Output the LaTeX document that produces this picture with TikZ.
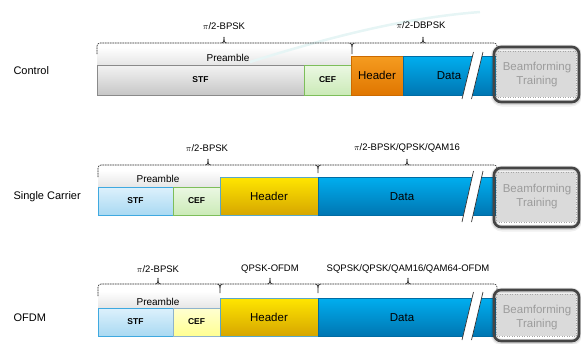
\documentclass[tikz,border=0pt]{standalone}
\usepackage{fontspec}
\setmainfont{Liberation Sans}
\definecolor{stfgT}{HTML}{F3F3F3}\definecolor{stfgB}{HTML}{C6C6C6}\definecolor{stfgD}{HTML}{8A8A8A}
\definecolor{cefgT}{HTML}{EBF8E3}\definecolor{cefgB}{HTML}{CBEAB7}\definecolor{cefgD}{HTML}{7DBE5A}
\definecolor{hdoT}{HTML}{F59C20}\definecolor{hdoB}{HTML}{E07600}\definecolor{hdoD}{HTML}{CC6A00}
\definecolor{dtT}{HTML}{00AEEF}\definecolor{dtB}{HTML}{0076B2}\definecolor{dtD}{HTML}{006CA4}
\definecolor{hdyT}{HTML}{FFE600}\definecolor{hdyB}{HTML}{D6A600}\definecolor{hdyD}{HTML}{5AA8C8}
\definecolor{stfbT}{HTML}{DDF1FC}\definecolor{stfbB}{HTML}{A9D9F2}\definecolor{stfbD}{HTML}{3FA9E0}
\definecolor{cefyT}{HTML}{FFFFD2}\definecolor{cefyB}{HTML}{FFFF92}\definecolor{cefyD}{HTML}{8FB4CC}
\definecolor{bfT}{HTML}{9C9C9C}\definecolor{bfFill}{HTML}{DADADA}\definecolor{bfBorder}{HTML}{454545}
\definecolor{swoosh}{HTML}{E6F5F5}
\begin{document}
\begin{tikzpicture}[x=1pt,y=-1pt,
  fld/.style={anchor=north west,inner sep=0pt,outer sep=0pt,line width=0.5pt,align=center},
  gray field/.style={fld,draw=stfgD,top color=stfgT,bottom color=stfgB},
  green field/.style={fld,draw=cefgD,top color=cefgT,bottom color=cefgB},
  orange field/.style={fld,draw=hdoD,top color=hdoT,bottom color=hdoB},
  blue field/.style={fld,draw=dtD,top color=dtT,bottom color=dtB},
  gold field/.style={fld,draw=hdyD,top color=hdyT,bottom color=hdyB},
  sky field/.style={fld,draw=stfbD,top color=stfbT,bottom color=stfbB},
  lemon field/.style={fld,draw=cefyD,top color=cefyT,bottom color=cefyB},
  pre area/.style={fld,top color=white,bottom color=black!10},
  small bold/.style={font=\fontsize{8.5}{9}\selectfont\bfseries},
  big text/.style={font=\fontsize{11.5}{13}\selectfont},
  row label/.style={anchor=west,font=\fontsize{11}{13}\selectfont},
  mod label/.style={font=\fontsize{9.5}{11}\selectfont},
  pre label/.style={font=\fontsize{10}{12}\selectfont},
  brace/.style={draw=black!85,line width=0.6pt,dash pattern=on 1.6pt off 0.9pt,rounded corners=3pt},
  tick/.style={draw=black!85,line width=0.6pt},
  bf text/.style={font=\fontsize{11.5}{14}\selectfont,text=bfT,align=center},
  bf inner/.style={fill=bfFill,draw=black!35,line width=0.5pt,dotted},
  bf outer/.style={draw=bfBorder,line width=2.6pt,rounded corners=7pt},
  break line/.style={draw=black!80,line width=0.7pt}
]
\useasboundingbox (0,0) rectangle (581,343);

% ================= Control =================
\node[row label] (lc) at (10,71) {Control};
\node[pre area,minimum width=254pt,minimum height=18pt] (cpa) at (97,47) {};
% decorative swoosh
\draw[swoosh,line width=2.5pt] (250,62) .. controls (320,40) and (400,18) .. (480,12);
\node[pre label] (cpre) at (228,58) {Preamble};
\node[gray field,minimum width=207pt,minimum height=30pt,small bold] (cstf) at (97,65) {STF};
\node[green field,minimum width=47pt,minimum height=30pt,small bold] (ccef) at (304,65) {CEF};
\node[orange field,minimum width=52pt,minimum height=39pt,big text] (chdr) at (351,56) {Header};
\node[blue field,minimum width=94pt,minimum height=39pt] (cdat) at (403,56) {};
\node[big text] (cdatl) at (449,76) {Data};
% braces
\path[brace] (97,54) -- (97,43) -- (497,43) -- (497,50);
\path[tick] (221.5,43) to[out=0,in=-90] (224,37);
\path[tick] (226.5,43) to[out=180,in=-90] (224,37);
\path[tick] (420.5,43) to[out=0,in=-90] (423,37);
\path[tick] (425.5,43) to[out=180,in=-90] (423,37);
\path[tick] (349.5,43) to[out=0,in=90] (352,47) -- (352,54);
\path[tick] (354.5,43) to[out=180,in=90] (352,47);
\node[mod label] (cm1) at (224,26) {$\pi$/2-BPSK};
\node[mod label] (cm2) at (421,25) {$\pi$/2-DBPSK};

% ================= Single Carrier =================
\node[row label] (ls) at (10,197) {Single Carrier};
\node[pre area,minimum width=122pt,minimum height=17pt] (spa) at (98,170) {};
\node[pre label] (spre) at (158,179) {Preamble};
\node[sky field,minimum width=75pt,minimum height=28pt,small bold] (sstf) at (98,187) {STF};
\node[green field,minimum width=47pt,minimum height=28pt,small bold] (scef) at (173,187) {CEF};
\node[gold field,minimum width=98pt,minimum height=38pt,big text] (shdr) at (220,177) {Header};
\node[blue field,minimum width=177pt,minimum height=38pt] (sdat) at (318,177) {};
\node[big text] (sdatl) at (402,197) {Data};
\path[brace] (98,177) -- (98,165) -- (497,165) -- (497,172);
\path[tick] (205.5,165) to[out=0,in=-90] (208,159);
\path[tick] (210.5,165) to[out=180,in=-90] (208,159);
\path[tick] (404.5,165) to[out=0,in=-90] (407,159);
\path[tick] (409.5,165) to[out=180,in=-90] (407,159);
\path[tick] (315.5,165) to[out=0,in=90] (318,169) -- (318,173);
\path[tick] (320.5,165) to[out=180,in=90] (318,169);
\node[mod label] (sm1) at (207,148) {$\pi$/2-BPSK};
\node[mod label] (sm2) at (407,148) {$\pi$/2-BPSK/QPSK/QAM16};

% ================= OFDM =================
\node[row label] (lo) at (10,318) {OFDM};
\node[pre area,minimum width=122pt,minimum height=17pt] (opa) at (98,291) {};
\node[pre label] (opre) at (158,302) {Preamble};
\node[sky field,minimum width=75pt,minimum height=28pt,small bold] (ostf) at (98,308) {STF};
\node[lemon field,minimum width=47pt,minimum height=28pt,small bold] (ocef) at (173,308) {CEF};
\node[gold field,minimum width=98pt,minimum height=38pt,big text] (ohdr) at (220,298) {Header};
\node[blue field,minimum width=177pt,minimum height=38pt] (odat) at (318,298) {};
\node[big text] (odatl) at (402,318) {Data};
\path[brace] (98,296) -- (98,284) -- (497,284) -- (497,291);
\path[tick] (155.5,284) to[out=0,in=-90] (158,278);
\path[tick] (160.5,284) to[out=180,in=-90] (158,278);
\path[tick] (267.5,284) to[out=0,in=-90] (270,278);
\path[tick] (272.5,284) to[out=180,in=-90] (270,278);
\path[tick] (405.5,284) to[out=0,in=-90] (408,278);
\path[tick] (410.5,284) to[out=180,in=-90] (408,278);
\path[tick] (217.5,284) to[out=0,in=90] (220,288) -- (220,293);
\path[tick] (222.5,284) to[out=180,in=90] (220,288);
\path[tick] (315.5,284) to[out=0,in=90] (318,288) -- (318,293);
\path[tick] (320.5,284) to[out=180,in=90] (318,288);
\node[mod label] (om1) at (158,269) {$\pi$/2-BPSK};
\node[mod label] (om2) at (270,269) {QPSK-OFDM};
\node[mod label] (om3) at (408,269) {SQPSK/QPSK/QAM16/QAM64-OFDM};

% ================= breaks and beamforming boxes =================
\foreach \t/\b in {52/99, 171/222, 292/340}{
  \fill[white] (462,\b) -- (473.5,\t) -- (483,\t) -- (471.5,\b) -- cycle;
  \path[break line] (462,\b) -- (473.5,\t);
  \path[break line] (471.5,\b) -- (483,\t);
}
\foreach \t/\b in {47/102, 168/227, 290/341}{
  \draw[black,opacity=0.06,line width=7pt,rounded corners=8pt] (494,\t+1) rectangle (579,\b+1);
  \draw[black,opacity=0.10,line width=4.5pt,rounded corners=7pt] (494,\t+0.5) rectangle (579,\b+0.5);
  \path[bf inner] (496,\t+4) rectangle (576,\b-5);
  \path[bf outer] (494,\t) rectangle (579,\b);
}
\node[bf text] (cbf) at (537,75) {Beamforming\\Training};
\node[bf text] (sbf) at (537,196.5) {Beamforming\\Training};
\node[bf text] (obf) at (537,318) {Beamforming\\Training};
\end{tikzpicture}
\end{document}
